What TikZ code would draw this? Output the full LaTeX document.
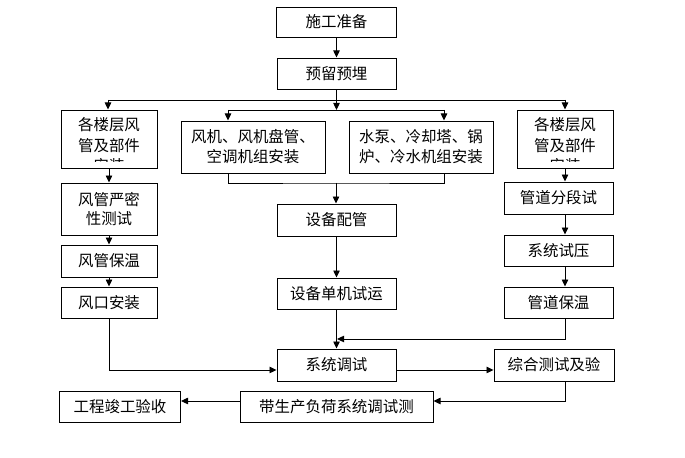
\documentclass[tikz,border=0pt]{standalone}
\usepackage{fontspec}
\newfontfamily\cjkfont{Noto Sans CJK SC}
\usepackage{tikz}
\usetikzlibrary{positioning,arrows.meta}

\begin{document}
\begin{tikzpicture}[x=0.03cm, y=-0.03cm, font=\cjkfont\fontsize{13.2pt}{17pt}\selectfont,
        box/.style={draw, line width=0.8pt, align=center, inner sep=0pt},
        sz/.style 2 args={minimum width=#1*0.03cm, minimum height=#2*0.03cm},
        arr/.style={-{Triangle[length=6pt,width=5.5pt]}, line width=0.8pt},
        link/.style={line width=0.8pt}]
        \useasboundingbox (0,0) rectangle (685,458);

        % top
        \node[box, sz={120}{30}] (prep) at (336.5,22) {施工准备};
        \node[box, sz={119}{31}] (embed) at (336.5,73.5) {预留预埋};
        \coordinate (busL) at (108,100);
        \coordinate (busR) at (565,100);
        \coordinate (bus2L) at (228,110);
        \coordinate (bus2R) at (444,110);

        % second row
        \node[box, sz={96}{58}] (ductL) at (109,139) {};
        \node[box, sz={144}{52}] (fanL) at (253,147) {风机、风机盘管、\\空调机组安装};
        \node[box, sz={144}{52}] (pumpR) at (421,147) {水泵、冷却塔、锅\\炉、冷水机组安装};
        \node[box, sz={96}{58}] (ductR) at (565,139) {};
        \begin{scope}
            \clip (61,111) rectangle (157,162);
            \node[align=center, inner sep=0pt, anchor=north, font=\cjkfont\fontsize{13.2pt}{17.5pt}\selectfont] (ductLtxt) at (109,117.5) {各楼层风\\管及部件\\安装};
        \end{scope}
        \begin{scope}
            \clip (517,111) rectangle (613,162);
            \node[align=center, inner sep=0pt, anchor=north, font=\cjkfont\fontsize{13.2pt}{17.5pt}\selectfont] (ductRtxt) at (565,117.5) {各楼层风\\管及部件\\安装};
        \end{scope}

        % left column
        \node[box, sz={96}{52}] (leak) at (109,209) {风管严密\\性测试};
        \node[box, sz={96}{32}] (insL) at (109,261) {风管保温};
        \node[box, sz={96}{31}] (vent) at (109,302.5) {风口安装};

        % middle column
        \coordinate (join) at (336,183);
        \node[box, sz={119}{32}] (pipe) at (336.5,220) {设备配管};
        \node[box, sz={119}{31}] (single) at (336.5,293.5) {设备单机试运};

        % right column
        \node[box, sz={109}{32}] (seg) at (558.5,198) {管道分段试};
        \node[box, sz={109}{31}] (press) at (558.5,250.5) {系统试压};
        \node[box, sz={109}{31}] (insR) at (558.5,302.5) {管道保温};

        % bottom
        \coordinate (merge) at (337,339);
        \node[box, sz={119}{32}] (commission) at (336.5,365) {系统调试};
        \node[box, sz={120}{32}] (test) at (554,365) {综合测试及验};
        \node[box, sz={193}{31}] (load) at (336.5,406.5) {带生产负荷系统调试测};
        \node[box, sz={121}{31}] (accept) at (120,406.5) {工程竣工验收};

        % connectors
        \draw[arr] (prep) -- (embed);
        \draw[link] (busL) -- (busR);
        \draw[link] (bus2L) -- (bus2R);
        \draw[arr] (embed) -- (embed.south |- bus2L);
        \draw[arr] (busL) -- (busL |- ductL.north);
        \draw[arr] (busR) -- (busR |- ductR.north);
        \draw[arr] (bus2L) -- (bus2L |- fanL.north);
        \draw[arr] (bus2R) -- (bus2R |- pumpR.north);
        \draw[link] (bus2L |- fanL.south) |- (join) -| (bus2R |- pumpR.south);
        \draw[arr] (join) -- (join |- pipe.north);
        \draw[arr] (pipe) -- (single);
        \draw[arr] (single) -- (commission);

        \draw[arr] (ductL) -- (leak);
        \draw[arr] (leak) -- (insL);
        \draw[arr] (insL) -- (vent);
        \draw[arr] (vent) |- ([yshift=-4.25pt]commission.west);

        \draw[arr] (busR |- ductR.south) -- (busR |- seg.north);
        \draw[arr] (busR |- seg.south) -- (busR |- press.north);
        \draw[arr] (busR |- press.south) -- (busR |- insR.north);
        \draw[arr] (busR |- insR.south) |- (merge);
        \draw[arr] ([yshift=-4.25pt]commission.east) -- ([yshift=-4.25pt]test.west);
        \draw[arr] (busR |- test.south) |- ([yshift=4.7pt]load.east);
        \draw[arr] ([yshift=4.7pt]load.west) -- ([yshift=4.7pt]accept.east);
    \end{tikzpicture}
\end{document}
